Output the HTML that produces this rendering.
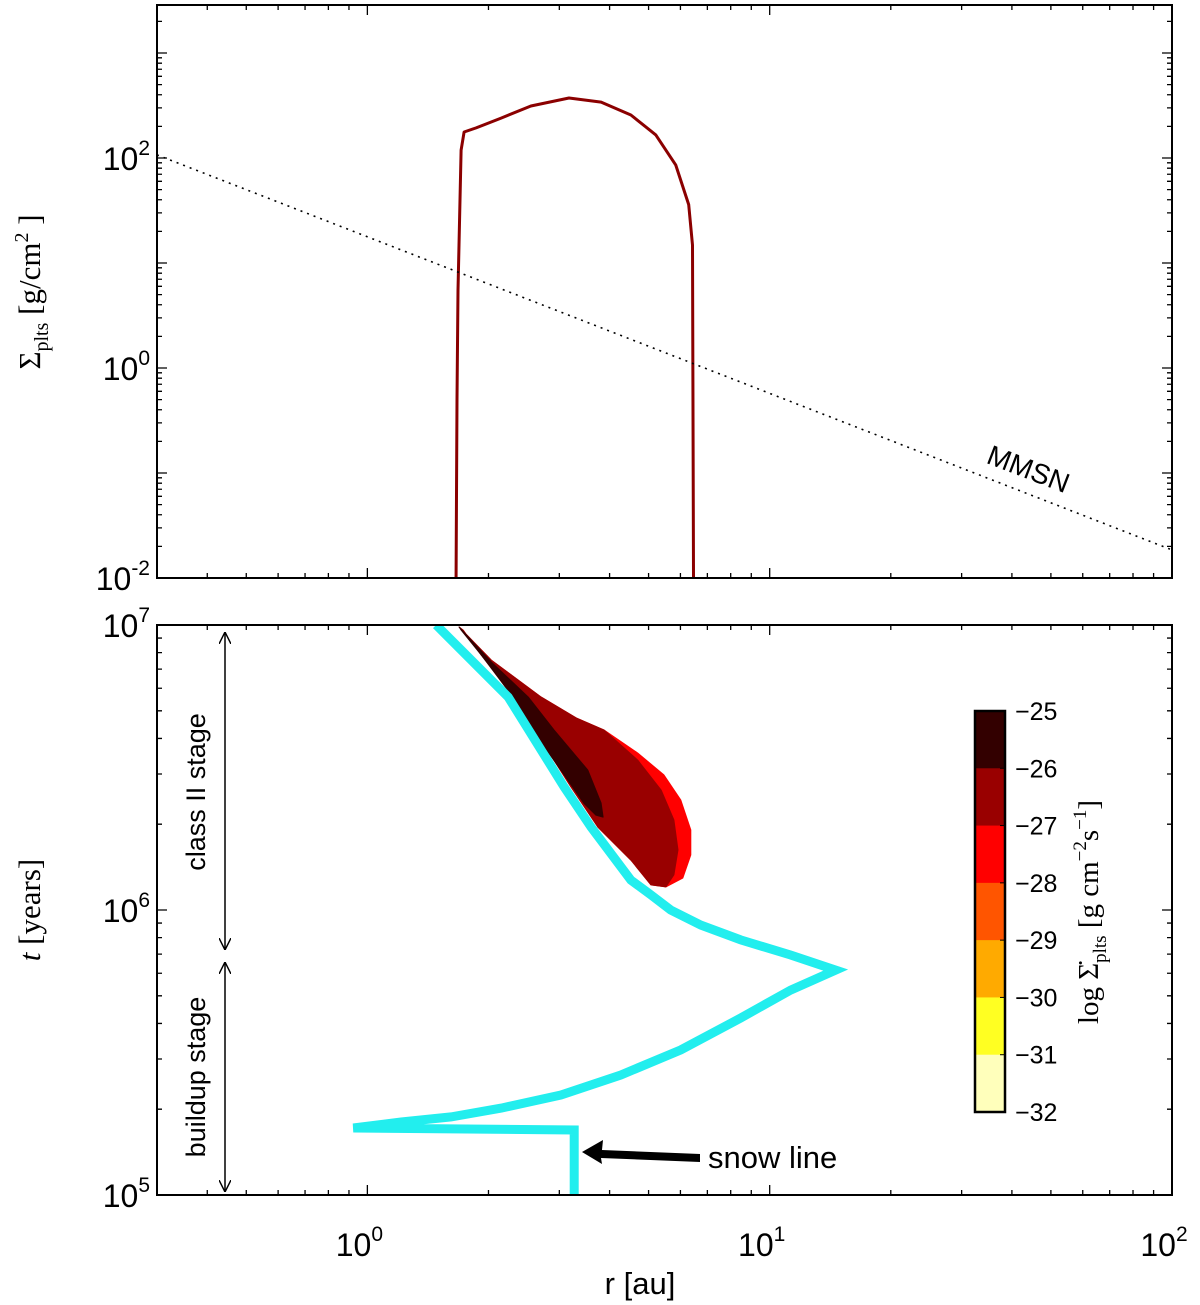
<!DOCTYPE html>
<html><head><meta charset="utf-8"><style>
html,body{margin:0;padding:0;background:#fff;}
svg{display:block;font-family:"Liberation Sans",sans-serif;}
</style></head><body>
<svg id="chart" width="1200" height="1305" viewBox="0 0 1200 1305" xmlns="http://www.w3.org/2000/svg">
<defs>
<clipPath id="clipTop"><rect x="157" y="5" width="1015" height="573"/></clipPath>
<clipPath id="clipBot"><rect x="157" y="625" width="1015" height="570"/></clipPath>
<marker id="ah" viewBox="0 0 10 10" refX="10" refY="5" markerWidth="8" markerHeight="8" orient="auto-start-reverse"><path d="M0,0 L10,5 L0,10" fill="none" stroke="#000" stroke-width="1.2"/></marker>
</defs>
<g id="topPanel"></g>
<g id="botPanel"></g>
<g id="cbar"></g>
<text x="640" y="1294" font-size="31" text-anchor="middle">r [au]</text>
<text transform="translate(40,292) rotate(-90)" font-size="31" text-anchor="middle" font-family="Liberation Serif,serif">Σ<tspan font-size="20" dy="8">plts</tspan><tspan dy="-8"> [g/cm</tspan><tspan font-size="20" dy="-12">2</tspan><tspan dy="12"> ]</tspan></text>
<text transform="translate(40,910) rotate(-90)" font-size="31" text-anchor="middle" font-family="Liberation Serif,serif"><tspan font-style="italic">t</tspan> [years]</text>
<text transform="translate(1025,478) rotate(21)" font-size="28" text-anchor="middle">MMSN</text>
<line x1="225" y1="632" x2="225" y2="950" stroke="#000" stroke-width="1.5" marker-start="url(#ah)" marker-end="url(#ah)"/>
<text transform="translate(205,792) rotate(-90)" font-size="27" text-anchor="middle">class II stage</text>
<line x1="225" y1="962" x2="225" y2="1192" stroke="#000" stroke-width="1.5" marker-start="url(#ah)" marker-end="url(#ah)"/>
<text transform="translate(205,1077) rotate(-90)" font-size="27" text-anchor="middle">buildup stage</text>
<polygon points="700,1154 602,1150 603,1140 582,1152 602,1164 601,1158 700,1162" fill="#000"/>
<text x="708" y="1168" font-size="31">snow line</text>
<text transform="translate(1098,912) rotate(-90)" font-size="29" text-anchor="middle" font-family="Liberation Serif,serif">log Σ̇<tspan font-size="19" dy="8">plts</tspan><tspan dy="-8"> [g cm</tspan><tspan font-size="19" dy="-12">−2</tspan><tspan dy="12">s</tspan><tspan font-size="19" dy="-12">−1</tspan><tspan dy="12">]</tspan></text>
</svg>
<script>
// top panel data
const sigR = [1.66,1.67,1.68,1.71,1.74,1.86,2.15,2.55,3.17,3.81,4.52,5.21,5.84,6.29,6.43,6.47];
const sigV = [0.005,0.5,5.5,119,177,193,240,313,373,341,257,166,86,36,14.8,0.005];
const mmsnR = [0.3,100];
const mmsnV = [107,0.0185];
const xTicks = [0,1,2];
const topYTicks = [-2,0,2];
const botYTicks = [5,6,7];
// bottom panel data (log10 r, log10 t)
const snowLogR = [0.514,0.514,0.514,-0.035,0.084,0.208,0.333,0.481,0.630,0.779,0.928,1.052,1.164,1.052,0.928,0.829,0.754,0.705,0.655,0.556,0.489,0.350,0.171];
const snowLogT = [5.0,5.193,5.228,5.235,5.256,5.274,5.305,5.351,5.421,5.509,5.621,5.719,5.789,5.842,5.895,5.947,6.0,6.053,6.105,6.291,6.432,6.747,7.0];
const redLogR = [0.228,0.308,0.432,0.519,0.588,0.672,0.737,0.779,0.804,0.804,0.784,0.742,0.705,0.655,0.573,0.506,0.432,0.367,0.283,0.238];
const redLogT = [6.993,6.877,6.747,6.674,6.632,6.551,6.474,6.386,6.281,6.193,6.112,6.081,6.088,6.175,6.291,6.432,6.596,6.747,6.895,6.982];
const dredLogR = [0.228,0.308,0.432,0.519,0.588,0.672,0.730,0.762,0.772,0.762,0.742,0.705,0.655,0.573,0.506,0.432,0.367,0.283,0.238];
const dredLogT = [6.993,6.877,6.747,6.674,6.632,6.526,6.421,6.316,6.211,6.123,6.081,6.088,6.175,6.291,6.432,6.596,6.747,6.895,6.982];
const darkLogR = [0.228,0.308,0.400,0.464,0.548,0.581,0.586,0.568,0.538,0.481,0.419,0.362,0.283,0.233];
const darkLogT = [6.993,6.870,6.747,6.632,6.491,6.375,6.326,6.333,6.375,6.491,6.614,6.747,6.895,6.982];
const cbarLevels = [-25,-26,-27,-28,-29,-30,-31,-32];
const cbarColors = ["#330000","#990000","#ff0000","#ff5500","#ffaa00","#ffff22","#ffffbb"];

const NS="http://www.w3.org/2000/svg";
const AXL=157,AXR=1172;
function xs(lr){return AXL+(lr+0.5229)/2.5229*(AXR-AXL);}
function xr(r){return xs(Math.log10(r));}
function ty(lv){return 578-(lv+2)*105;}
function tyv(v){return ty(Math.log10(v));}
function by(lt){return 1195-(lt-5)*285;}
function mk(parent,tag,attrs){const e=document.createElementNS(NS,tag);for(const k in attrs)e.setAttribute(k,attrs[k]);parent.appendChild(e);return e;}
const gTop=document.getElementById('topPanel'),gBot=document.getElementById('botPanel'),gCb=document.getElementById('cbar');

const sd=sigR.map((r,i)=>(i?'L':'M')+xr(r).toFixed(1)+','+tyv(sigV[i]).toFixed(1)).join(' ');
const sp=mk(gTop,'path',{d:sd,fill:'none',stroke:'#8b0000','stroke-width':3,'stroke-linejoin':'round','clip-path':'url(#clipTop)'});


const ml=mk(gTop,'line',{x1:xr(mmsnR[0]),y1:tyv(mmsnV[0]),x2:xr(mmsnR[1]),y2:tyv(mmsnV[1]),stroke:'#000','stroke-width':1.6,'stroke-dasharray':'2,5','clip-path':'url(#clipTop)'});



function poly(lr,lt,fill,name){const e=mk(gBot,'polygon',{points:lr.map((v,i)=>xs(v).toFixed(1)+','+by(lt[i]).toFixed(1)).join(' '),fill:fill,'stroke':fill,'stroke-width':1,'stroke-linejoin':'round','clip-path':'url(#clipBot)'});

}
poly(redLogR,redLogT,'#ff0000','region-minus-27');
poly(dredLogR,dredLogT,'#990000','region-minus-26');
poly(darkLogR,darkLogT,'#330000','region-minus-25');
const snw=mk(gBot,'path',{d:snowLogR.map((v,i)=>(i?'L':'M')+xs(v).toFixed(1)+','+by(snowLogT[i]).toFixed(1)).join(' '),fill:'none',stroke:'#22eeee','stroke-width':9,'stroke-linejoin':'miter','clip-path':'url(#clipBot)'});



function tickLabel(g,x,y,v,anchor,name){
 const tx=mk(g,'text',{x:x,y:y,'font-size':32,'text-anchor':anchor});
 tx.appendChild(document.createTextNode('10'));
 const sup=mk(tx,'tspan',{'font-size':21,dy:-15});
 sup.textContent=String(v);
 
 
}
function frame(g,y0,y1,yt,yfn,yRange,name){
 const f=mk(g,'rect',{x:AXL,y:y0,width:AXR-AXL,height:y1-y0,fill:'none',stroke:'#000','stroke-width':2});
 
 
 let tk='';
 for(let dec=-1;dec<2;dec++)for(let k=1;k<10;k++){const lr=dec+Math.log10(k);if(lr<-0.523||lr>2)continue;const x=xs(lr);const len=k==1?10:5;tk+='M'+x+','+y1+'v'+(-len)+'M'+x+','+y0+'v'+len;}
 for(let dec=yRange[0];dec<yRange[1];dec++)for(let k=1;k<10;k++){const lv=dec+Math.log10(k);const y=yfn(lv);if(y<y0-0.5||y>y1+0.5)continue;const len=k==1?10:5;tk+='M'+AXL+','+y+'h'+len+'M'+AXR+','+y+'h'+(-len);}
 const t=mk(g,'path',{d:tk,stroke:'#000','stroke-width':1.3,fill:'none'});
 
 
 yt.forEach(v=>tickLabel(g,150,yfn(v)+12,v,'end','y-tick-label'));
}
frame(gTop,5,578,topYTicks,ty,[-2,4],'top-axes');
frame(gBot,625,1195,botYTicks,by,[5,7],'bottom-axes');
xTicks.forEach(v=>tickLabel(gBot,xs(v)-8,1256,v,'middle','x-tick-label'));

const cy0=711,cy1=1112,cx=975,cw=30,step=(cy1-cy0)/cbarColors.length;
cbarColors.forEach((c,i)=>{const r=mk(gCb,'rect',{x:cx,y:cy0+i*step,width:cw,height:step+0.5,fill:c});

});
const cf=mk(gCb,'rect',{x:cx,y:cy0,width:cw,height:cy1-cy0,fill:'none',stroke:'#000','stroke-width':2.5});


cbarLevels.forEach((v,i)=>{const y=cy0+i*step;mk(gCb,'line',{x1:cx+cw-5,x2:cx+cw,y1:y,y2:y,stroke:'#000','stroke-width':1});
const t=mk(gCb,'text',{x:1015,y:y+9,'font-size':25});t.textContent='\u2212'+Math.abs(v);

});
</script>
</body></html>
